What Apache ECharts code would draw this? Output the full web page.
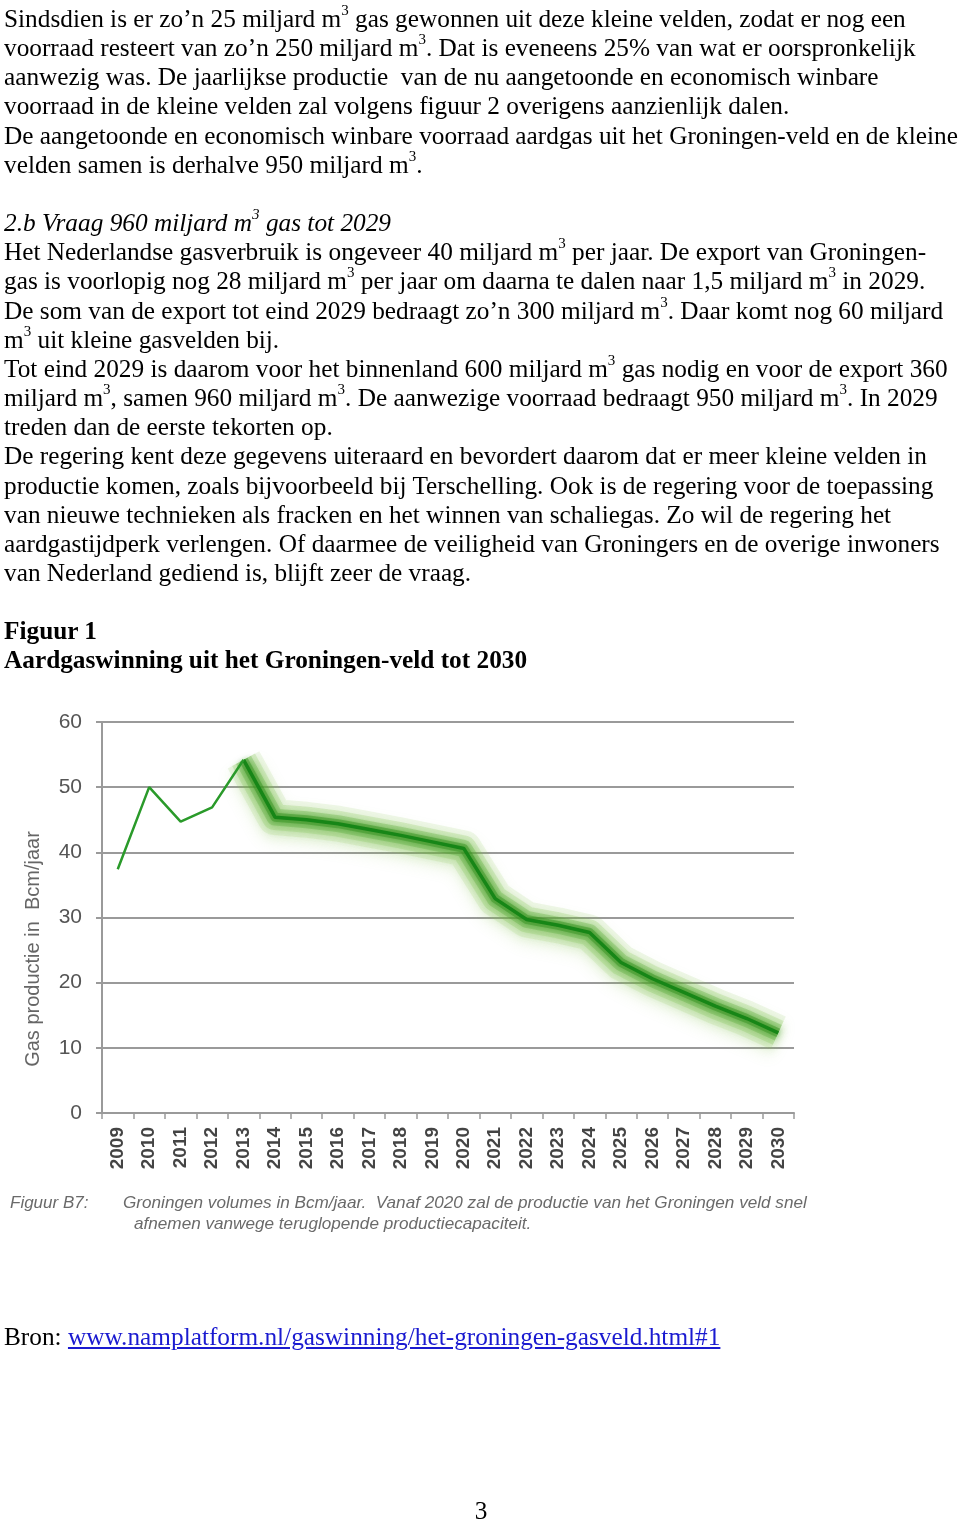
<!DOCTYPE html>
<html>
<head>
<meta charset="utf-8">
<script src="https://cdn.jsdelivr.net/npm/echarts@6/dist/echarts.min.js"></script>
<style>
  html, body { margin:0; padding:0; background:#fff; }
  #page { position:relative; width:960px; height:1523px; overflow:hidden; background:#fff; }
  #chart { position:absolute; left:0; top:0; width:960px; height:1523px; }
  .txt { position:absolute; left:4px; font-family:'Liberation Serif','Times New Roman',serif; font-size:25.3px; line-height:29.15px; color:#000; white-space:nowrap; z-index:2; }
  .s { font-size:15px; position:relative; top:-12px; line-height:0; }
  a { color:#1a1ad0; text-decoration:underline; }
</style>
</head>
<body>
<div id="page">
  <div id="chart"></div>
  <div class="txt" style="top:4px;">
    Sindsdien is er zo’n 25 miljard m<span class="s">3</span> gas gewonnen uit deze kleine velden, zodat er nog een<br>
    voorraad resteert van zo’n 250 miljard m<span class="s">3</span>. Dat is eveneens 25% van wat er oorspronkelijk<br>
    aanwezig was. De jaarlijkse productie &nbsp;van de nu aangetoonde en economisch winbare<br>
    voorraad in de kleine velden zal volgens figuur 2 overigens aanzienlijk dalen.<br>
    De aangetoonde en economisch winbare voorraad aardgas uit het Groningen-veld en de kleine<br>
    velden samen is derhalve 950 miljard m<span class="s">3</span>.<br>
    <br>
    <i>2.b Vraag 960 miljard m<span class="s">3</span> gas tot 2029</i><br>
    Het Nederlandse gasverbruik is ongeveer 40 miljard m<span class="s">3</span> per jaar. De export van Groningen-<br>
    gas is voorlopig nog 28 miljard m<span class="s">3</span> per jaar om daarna te dalen naar 1,5 miljard m<span class="s">3</span> in 2029.<br>
    De som van de export tot eind 2029 bedraagt zo’n 300 miljard m<span class="s">3</span>. Daar komt nog 60 miljard<br>
    m<span class="s">3</span> uit kleine gasvelden bij.<br>
    Tot eind 2029 is daarom voor het binnenland 600 miljard m<span class="s">3</span> gas nodig en voor de export 360<br>
    miljard m<span class="s">3</span>, samen 960 miljard m<span class="s">3</span>. De aanwezige voorraad bedraagt 950 miljard m<span class="s">3</span>. In 2029<br>
    treden dan de eerste tekorten op.<br>
    De regering kent deze gegevens uiteraard en bevordert daarom dat er meer kleine velden in<br>
    productie komen, zoals bijvoorbeeld bij Terschelling. Ook is de regering voor de toepassing<br>
    van nieuwe technieken als fracken en het winnen van schaliegas. Zo wil de regering het<br>
    aardgastijdperk verlengen. Of daarmee de veiligheid van Groningers en de overige inwoners<br>
    van Nederland gediend is, blijft zeer de vraag.<br>
    <br>
    <b>Figuur 1</b><br>
    <b>Aardgaswinning uit het Groningen-veld tot 2030</b>
  </div>
  <div class="txt" style="top:1322px;">Bron: <a href="#">www.namplatform.nl/gaswinning/het-groningen-gasveld.html#1</a></div>
  <div class="txt" style="top:1496px; left:0; width:962px; text-align:center;">3</div>
</div>
<script>
// Data
const years = ['2009','2010','2011','2012','2013','2014','2015','2016','2017','2018','2019',
               '2020','2021','2022','2023','2024','2025','2026','2027','2028','2029','2030'];
const measured = [37.4, 50.0, 44.7, 46.9, 54.2, null, null, null, null, null, null,
                  null, null, null, null, null, null, null, null, null, null, null];
const forecast = [null, null, null, null, 54.2, 45.4, 45.0, 44.4, 43.5, 42.6, 41.6,
                  40.6, 32.9, 29.7, 28.8, 27.7, 23.1, 20.6, 18.5, 16.4, 14.5, 12.3];
const yTicks = [0, 10, 20, 30, 40, 50, 60];
const yName = 'Gas productie in  Bcm/jaar';
const captionLabel = 'Figuur B7:';
const captionLine1 = 'Groningen volumes in Bcm/jaar.  Vanaf 2020 zal de productie van het Groningen veld snel';
const captionLine2 = 'afnemen vanwege teruglopende productiecapaciteit.';

const chart = echarts.init(document.getElementById('chart'), null, { renderer: 'canvas' });
const axisGrey = '#9a9a9a';

// soft glow layers around the forecast line (style only)
const glowLayers = [
  { w: 36, c: 'rgba(140,200,90,0.14)', b: 14, oy: 8 },
  { w: 26, c: 'rgba(115,188,65,0.20)', b: 10, oy: 6 },
  { w: 17, c: 'rgba(80,165,45,0.28)', b: 8, oy: 3 },
  { w: 9,  c: 'rgba(50,145,30,0.45)', b: 5, oy: 1 }
];
const glowSeries = glowLayers.map((g, i) => ({
  type: 'line', data: forecast, showSymbol: false, smooth: false, z: 2 + i, silent: true,
  lineStyle: { color: g.c, width: g.w, cap: 'butt', join: 'round',
               shadowColor: g.c.replace(/[\d.]+\)$/, '0.9)'), shadowBlur: g.b, shadowOffsetY: g.oy }
}));

chart.setOption({
  animation: false,
  backgroundColor: 'transparent',
  grid: { left: 102, right: 166, top: 722, bottom: 410, containLabel: false },
  xAxis: {
    type: 'category',
    data: years,
    boundaryGap: true,
    axisLine: { show: true, lineStyle: { color: axisGrey, width: 2 } },
    axisTick: { show: true, length: 6, interval: 0, alignWithLabel: false, lineStyle: { color: axisGrey, width: 1.5 } },
    axisLabel: { interval: 0, rotate: 90, margin: 14, color: '#444', fontFamily: 'Liberation Sans', fontSize: 19, fontWeight: 'bold' },
    splitLine: { show: false }
  },
  yAxis: {
    type: 'value',
    min: yTicks[0], max: yTicks[yTicks.length - 1], interval: 10,
    axisLine: { show: true, lineStyle: { color: axisGrey, width: 2 } },
    axisTick: { show: true, length: 6, lineStyle: { color: axisGrey, width: 2 } },
    axisLabel: { margin: 20, color: '#555', fontFamily: 'Liberation Sans', fontSize: 21 },
    splitLine: { show: true, lineStyle: { color: axisGrey, width: 2 } }
  },
  series: glowSeries.concat([
    {
      type: 'line', data: forecast, showSymbol: false, smooth: false, z: 8,
      lineStyle: { color: '#178617', width: 3.5 }
    },
    {
      type: 'line', data: measured, showSymbol: false, smooth: false, z: 8,
      lineStyle: { color: '#2a9a2a', width: 2.5 }
    }
  ]),
  graphic: [
    { type: 'text', x: 33, y: 949, rotation: Math.PI / 2, z: 5,
      style: { text: yName, font: '20px "Liberation Sans"', fill: '#666', textAlign: 'center', textVerticalAlign: 'middle' } },
    { type: 'text', x: 10, y: 1203, z: 5,
      style: { text: captionLabel, font: 'italic 17px "Liberation Sans"', fill: '#6a6a6a', textAlign: 'left', textVerticalAlign: 'middle' } },
    { type: 'text', x: 123, y: 1203, z: 5,
      style: { text: captionLine1, font: 'italic 17.15px "Liberation Sans"', fill: '#6a6a6a', textAlign: 'left', textVerticalAlign: 'middle' } },
    { type: 'text', x: 134, y: 1224, z: 5,
      style: { text: captionLine2, font: 'italic 17.15px "Liberation Sans"', fill: '#6a6a6a', textAlign: 'left', textVerticalAlign: 'middle' } }
  ]
});
</script>
</body>
</html>
